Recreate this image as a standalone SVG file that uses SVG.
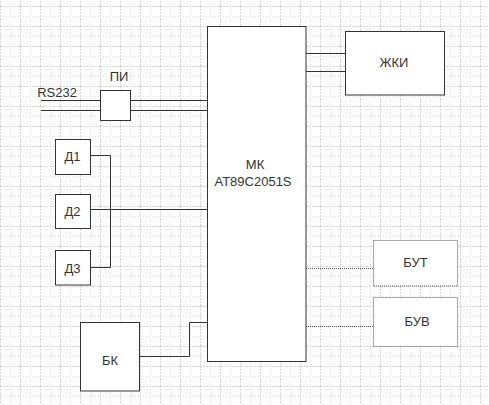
<svg xmlns="http://www.w3.org/2000/svg" width="489" height="405" viewBox="0 0 489 405">
<defs>
<pattern id="grid" width="20" height="20" patternUnits="userSpaceOnUse" x="0" y="6">
<path d="M0 10.5H20M10.5 0V20" fill="none" stroke="#e2e2e2" stroke-width="1" stroke-dasharray="1 2"/>
<path d="M0 0.5H20M0.5 0V20" fill="none" stroke="#d6d6d6" stroke-width="1" stroke-dasharray="2 1"/>
</pattern>
</defs>
<style>
.box{fill:#fff;stroke:#333;stroke-width:1}
.dbox{fill:#fff;stroke:#555;stroke-width:1;stroke-dasharray:1 1}
.ln{fill:none;stroke:#333;stroke-width:1}
.dln{fill:none;stroke:#555;stroke-width:1;stroke-dasharray:1 1}
text{font-family:"Liberation Sans",Arial,sans-serif;font-size:13px;fill:#333;text-anchor:middle}
</style>
<rect width="489" height="405" fill="#fff"/>
<rect width="489" height="405" fill="url(#grid)"/>
<g id="connectors">
<path class="ln" d="M41 100.5H100.5M41 110.5H100.5"/>
<path class="ln" d="M130.5 100.5H207.5M130.5 110.5H207.5"/>
<path class="ln" d="M306 53.5H345.5M306 71.5H345.5"/>
<path class="ln" d="M90.5 155.5H110.5V267.5H90.5"/>
<path class="ln" d="M90.5 209.5H207.5"/>
<path class="ln" d="M139.5 356.5H189.5V322.5H207.5"/>
<path class="dln" d="M306 268.5H373.5"/>
<path class="dln" d="M306 326.5H373.5"/>
</g>
<g id="mk">
<rect class="box" x="207.5" y="26.5" width="98.5" height="335"/>
<text x="255" y="168.5">МК</text>
<text x="253" y="186">AT89C2051S</text>
</g>
<g id="rs232"><text x="57" y="97">RS232</text></g>
<g id="pi">
<rect class="box" x="100.5" y="90.5" width="30" height="30"/>
<text x="119" y="80.5">ПИ</text>
</g>
<g id="zhki">
<rect class="box" x="345.5" y="31.5" width="99" height="63.5"/>
<text x="394" y="66.5">ЖКИ</text>
</g>
<g id="d1">
<rect class="box" x="55.5" y="139.5" width="35" height="35"/>
<text x="72.5" y="161">Д1</text>
</g>
<g id="d2">
<rect class="box" x="55.5" y="194.5" width="35" height="34"/>
<text x="72.5" y="215.5">Д2</text>
</g>
<g id="d3">
<rect class="box" x="55.5" y="250.5" width="35" height="34.5"/>
<text x="72.5" y="272.5">Д3</text>
</g>
<g id="bk">
<rect class="box" x="80.5" y="322.5" width="59" height="68.5"/>
<text x="110" y="365">БК</text>
</g>
<g id="but">
<rect class="dbox" x="373.5" y="240.5" width="84" height="45.5"/>
<text x="415.5" y="267">БУТ</text>
</g>
<g id="buv">
<rect class="dbox" x="373.5" y="297.5" width="84" height="49"/>
<text x="417" y="326">БУВ</text>
</g>
</svg>
